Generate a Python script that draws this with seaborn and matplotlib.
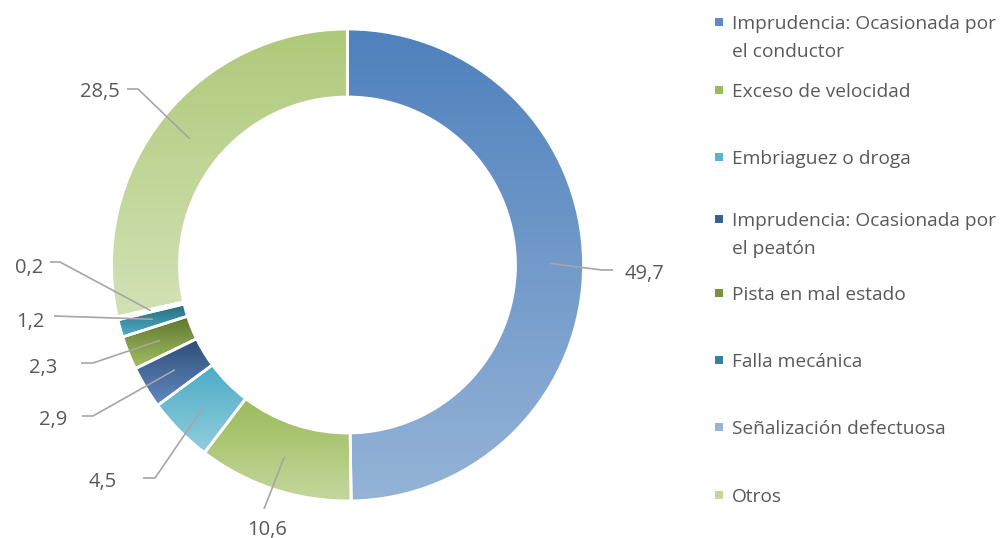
import numpy as np
import matplotlib
matplotlib.use("Agg")
import matplotlib.pyplot as plt
from matplotlib.colors import LinearSegmentedColormap
from matplotlib.patches import Rectangle
import seaborn as sns

# data
categories = ["Imprudencia: Ocasionada por\nel conductor", "Exceso de velocidad",
              "Embriaguez o droga", "Imprudencia: Ocasionada por\nel peatón",
              "Pista en mal estado", "Falla mecánica", "Señalización defectuosa", "Otros"]
values = [49.7, 10.6, 4.5, 2.9, 2.3, 1.2, 0.2, 28.5]
value_labels = ["49,7", "10,6", "4,5", "2,9", "2,3", "1,2", "0,2", "28,5"]

# slice gradients (top -> bottom) and legend swatches
grad_top = ["#4F81BD", "#9BBB59", "#4BACC6", "#2C4D75", "#5F7530", "#276A7C", "#7BA0CD", "#AFC97A"]
grad_bottom = ["#95B3D7", "#C4D79D", "#93CDDD", "#6389C2", "#A3C162", "#4FB1CB", "#B9CDE5", "#D3E2B6"]
legend_colors = ["#5F8BC4", "#9BBB59", "#5BB4CC", "#3A5F91", "#77933C", "#31849B", "#95B3D7", "#C3D69B"]

sns.set_theme(style="white")
plt.rcParams["font.family"] = ["Open Sans", "DejaVu Sans"]
TXT = "#595959"
LINE = "#A6A6A6"

W, H = 1002, 538
fig = plt.figure(figsize=(W / 100, H / 100), dpi=100)
ax = fig.add_axes([0, 0, 1, 1])

cx, cy, R = 347.5, H - 265, 236
ring = 68

wedges, _ = ax.pie(values, startangle=90, counterclock=False, center=(cx, cy), radius=R,
                   wedgeprops=dict(width=ring, edgecolor="white", linewidth=2))

# vertical gradient inside each slice
grad = np.linspace(0, 1, 256).reshape(-1, 1)
for w, c0, c1 in zip(wedges, grad_top, grad_bottom):
    ext = w.get_path().get_extents()
    cmap = LinearSegmentedColormap.from_list("g", [c0, c1])
    im = ax.imshow(grad, cmap=cmap, extent=[ext.x0, ext.x1, ext.y0, ext.y1],
                   origin="upper", aspect="auto", interpolation="bilinear", zorder=1)
    im.set_clip_path(w)
    w.set_facecolor("none")
    w.set_zorder(2)

# data labels with leader lines (pixel layout: elbow, line end, text pos, ha)
label_layout = [
    ((602, 270), (613, 270), (625, 272), "left"),
    (None, (264, 509), (267, 527), "center"),
    ((155, 478), (143, 478), (117, 479), "right"),
    ((93, 416), (82, 416), (67, 417), "right"),
    ((93, 363), (81, 363), (57, 365), "right"),
    (None, (54, 316), (45, 319), "right"),
    ((60, 262), (50, 262), (43, 265), "right"),
    ((138, 89), (127, 89), (120, 90), "right"),
]
rmid = R - ring / 2
for w, lab, (elbow, end, tpos, ha) in zip(wedges, value_labels, label_layout):
    ang = np.deg2rad((w.theta1 + w.theta2) / 2)
    pts = [(cx + rmid * np.cos(ang), cy + rmid * np.sin(ang))]
    if elbow:
        pts.append((elbow[0], H - elbow[1]))
    pts.append((end[0], H - end[1]))
    xs, ys = zip(*pts)
    ax.plot(xs, ys, color=LINE, lw=1.2, zorder=3, solid_capstyle="butt")
    ax.text(tpos[0], H - tpos[1], lab, ha=ha, va="center_baseline", fontsize=14.5, color=TXT)

# legend
legend_y = [22, 90, 157, 219, 293, 360, 427, 495]
for lab, col, y in zip(categories, legend_colors, legend_y):
    ax.add_patch(Rectangle((715, H - y - 4), 8, 8, facecolor=col, edgecolor="none"))
    for i, line in enumerate(lab.split("\n")):
        ax.text(732, H - y - i * 28, line, ha="left", va="center_baseline", fontsize=13.8, color=TXT)

ax.set_xlim(0, W)
ax.set_ylim(0, H)
ax.set_aspect("auto")
ax.axis("off")

fig.savefig("out.png", dpi=100, facecolor="white")
